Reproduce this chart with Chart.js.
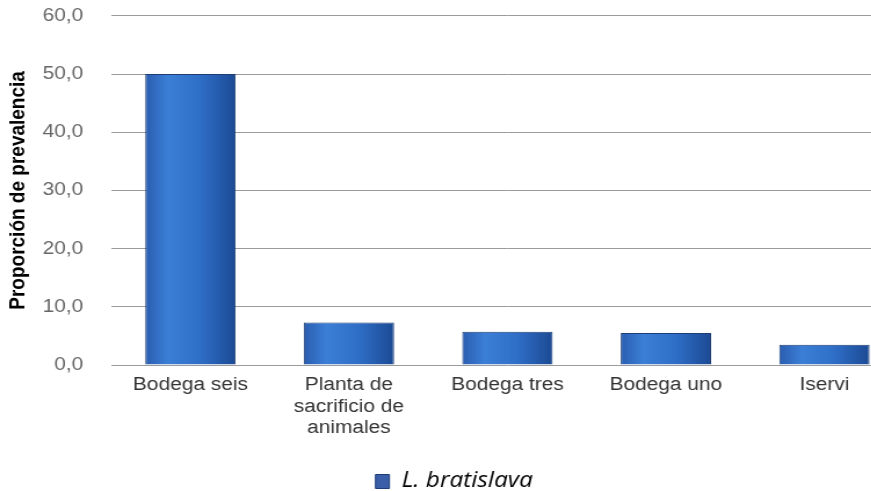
<!DOCTYPE html>
<html>
<head>
<meta charset="utf-8">
<script src="https://cdn.jsdelivr.net/npm/chart.js@4.4.0/dist/chart.umd.min.js"></script>
<style>
  html, body { margin: 0; padding: 0; background: #fff; overflow: hidden; }
  /* la imagen original está estirada en horizontal */
  #wrap { width: 779px; height: 491px; transform: scaleX(1.16); transform-origin: 0 0; }
</style>
</head>
<body>
<div id="wrap"><canvas id="prevalencia"></canvas></div>
<script>
// Datos del gráfico
var lugares = [
  "Bodega seis",
  ["Planta de", "sacrificio de", "animales"],
  "Bodega tres",
  "Bodega uno",
  "Iservi"
];
var prevalencia = [50.0, 7.3, 5.7, 5.5, 3.5];
var serie = "L. bratislava";

var yMin = 0, yMax = 60, yPaso = 10;

// degradado horizontal para cada barra
function colorBarra(ctx) {
  var chart = ctx.chart;
  var escala = chart.scales.x;
  if (!escala || ctx.dataIndex === undefined) return "#2f6cc2";
  var x = escala.getPixelForValue(ctx.dataIndex);
  var g = chart.ctx.createLinearGradient(x - 39, 0, x + 39, 0);
  g.addColorStop(0, "#2a5db0");
  g.addColorStop(0.25, "#3b7fd6");
  g.addColorStop(0.6, "#2f6fc8");
  g.addColorStop(1, "#1c4a94");
  return g;
}

var ctx = document.getElementById("prevalencia").getContext("2d");
new Chart(ctx, {
  type: "bar",
  data: {
    labels: lugares,
    datasets: [
      {
        label: serie,
        data: prevalencia,
        backgroundColor: colorBarra,
        borderColor: "#1d3d74",
        borderWidth: 1,
        categoryPercentage: 0.57,
        barPercentage: 1.0
      }
    ]
  },
  options: {
    responsive: true,
    maintainAspectRatio: false,
    animation: false,
    layout: { padding: { left: 4, right: 0, top: 1, bottom: -11 } },
    plugins: {
      tooltip: { enabled: false },
      legend: {
        position: "bottom",
        labels: {
          color: "#222",
          font: { family: "'Open Sans', sans-serif", size: 21, style: "italic" },
          boxWidth: 12,
          boxHeight: 14,
          padding: 2,
          generateLabels: function (chart) {
            return [{
              text: serie,
              fillStyle: "#3a5fa8",
              strokeStyle: "#1d3d74",
              lineWidth: 1,
              datasetIndex: 0
            }];
          }
        }
      }
    },
    scales: {
      x: {
        grid: { display: false, drawTicks: false },
        border: { display: false },
        afterFit: function (scale) { scale.height = 104; },
        ticks: {
          color: "#333",
          font: { family: "'Liberation Sans', Arial, sans-serif", size: 18, lineHeight: 1.17 },
          padding: 10,
          maxRotation: 0
        }
      },
      y: {
        min: yMin,
        max: yMax,
        grid: { color: "#9a9a9a", lineWidth: 1, drawTicks: true, tickLength: 14, tickColor: "rgba(0,0,0,0)" },
        border: { display: false },
        ticks: {
          stepSize: yPaso,
          color: "#666",
          padding: 10,
          font: { family: "'Liberation Sans', Arial, sans-serif", size: 18, lineHeight: 0.65 },
          callback: function (v) { return v.toFixed(1).replace(".", ","); }
        },
        title: {
          display: true,
          text: "Proporción de prevalencia",
          color: "#000",
          font: { family: "'Liberation Sans', Arial, sans-serif", size: 19, weight: "bold" },
          padding: { top: 0, bottom: 0 }
        }
      }
    }
  }
});
</script>
</body>
</html>
